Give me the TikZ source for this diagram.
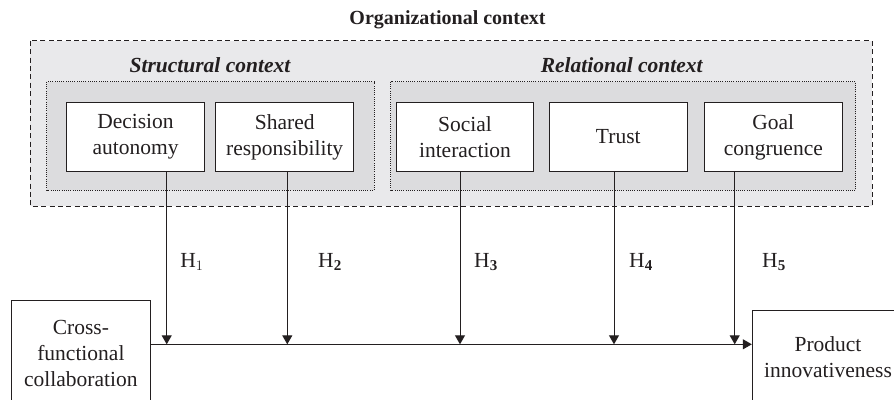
\documentclass[tikz,border=0pt]{standalone}
\usepackage{fontspec}
\setmainfont{Liberation Serif}
\usetikzlibrary{arrows.meta}
\definecolor{outerfill}{RGB}{233,233,235}
\definecolor{innerfill}{RGB}{220,220,222}
\definecolor{ink}{RGB}{35,31,32}
\begin{document}
\begin{tikzpicture}[x=1pt,y=-1pt,
  every node/.style={font=\fontsize{21.5}{26}\selectfont, text=ink},
  factor/.style={draw=ink, fill=white, line width=1pt, align=center,
    minimum width=137.6pt, minimum height=68.3pt, inner sep=0pt},
  endbox/.style={draw=ink, fill=white, line width=1pt, align=center, inner sep=0pt},
  groupbox/.style={draw=ink, fill=innerfill, line width=0.8pt, dash pattern=on 1pt off 1.2pt},
  grouptitle/.style={font=\fontsize{21.5}{26}\selectfont\bfseries\itshape},
  link/.style={draw=ink, line width=1pt},
  effect/.style={link, -{Triangle[length=9pt,width=10pt]}},
  hlabel/.style={anchor=center}
]
\useasboundingbox (0,0) rectangle (894,399);
\clip (0,0) rectangle (894,399);

% organisational context frame
\node[font=\fontsize{20}{26}\selectfont\bfseries] (org) at (447.5,20) {Organizational context};
\draw[draw=ink, fill=outerfill, line width=1pt, dash pattern=on 5pt off 3.4pt] (30,40.7) rectangle (872,206);

% structural and relational groups
\draw[groupbox] (46.7,81.7) rectangle (374,190);
\draw[groupbox] (390.7,81.7) rectangle (855.7,190);
\node[grouptitle] (struct) at (210,65) {Structural context};
\node[grouptitle] (rel) at (621.7,65) {Relational context};

% context factors
\node[factor] (dec) at (135.5,137) {Decision\\autonomy};
\node[factor] (shr) at (284.7,137) {Shared\\responsibility};
\node[factor] (soc) at (465,137) {Social\\interaction};
\node[factor] (tru) at (618.3,137) {Trust};
\node[factor] (goal) at (773.3,137) {Goal\\congruence};

% main relationship
\node[endbox, minimum width=138.3pt, minimum height=104.6pt] (cross) at (80.9,353) {Cross-\\functional\\collaboration};
\node[endbox, minimum width=151.4pt, minimum height=95pt] (prod) at (828,357.5) {Product\\innovativeness};

\coordinate (m) at (0,344.3);
\coordinate (h1) at (166.7,344.3);
\coordinate (h2) at (287.3,344.3);
\coordinate (h3) at (460,344.3);
\coordinate (h4) at (614,344.3);
\coordinate (h5) at (734.7,344.3);

\draw[effect] (cross.east |- m) -- (prod.west |- m);

% moderating effects
\draw[effect] (dec.south -| h1) -- (h1);
\draw[effect] (shr.south -| h2) -- (h2);
\draw[effect] (soc.south -| h3) -- (h3);
\draw[effect] (tru.south -| h4) -- (h4);
\draw[effect] (goal.south -| h5) -- (h5);

\node[hlabel] (l1) at (192,262) {H$_1$};
\node[hlabel] (l2) at (330,262) {H$_{\mathbf{2}}$};
\node[hlabel] (l3) at (486,262) {H$_{\mathbf{3}}$};
\node[hlabel] (l4) at (641,262) {H$_{\mathbf{4}}$};
\node[hlabel] (l5) at (774,262) {H$_{\mathbf{5}}$};
\end{tikzpicture}
\end{document}
